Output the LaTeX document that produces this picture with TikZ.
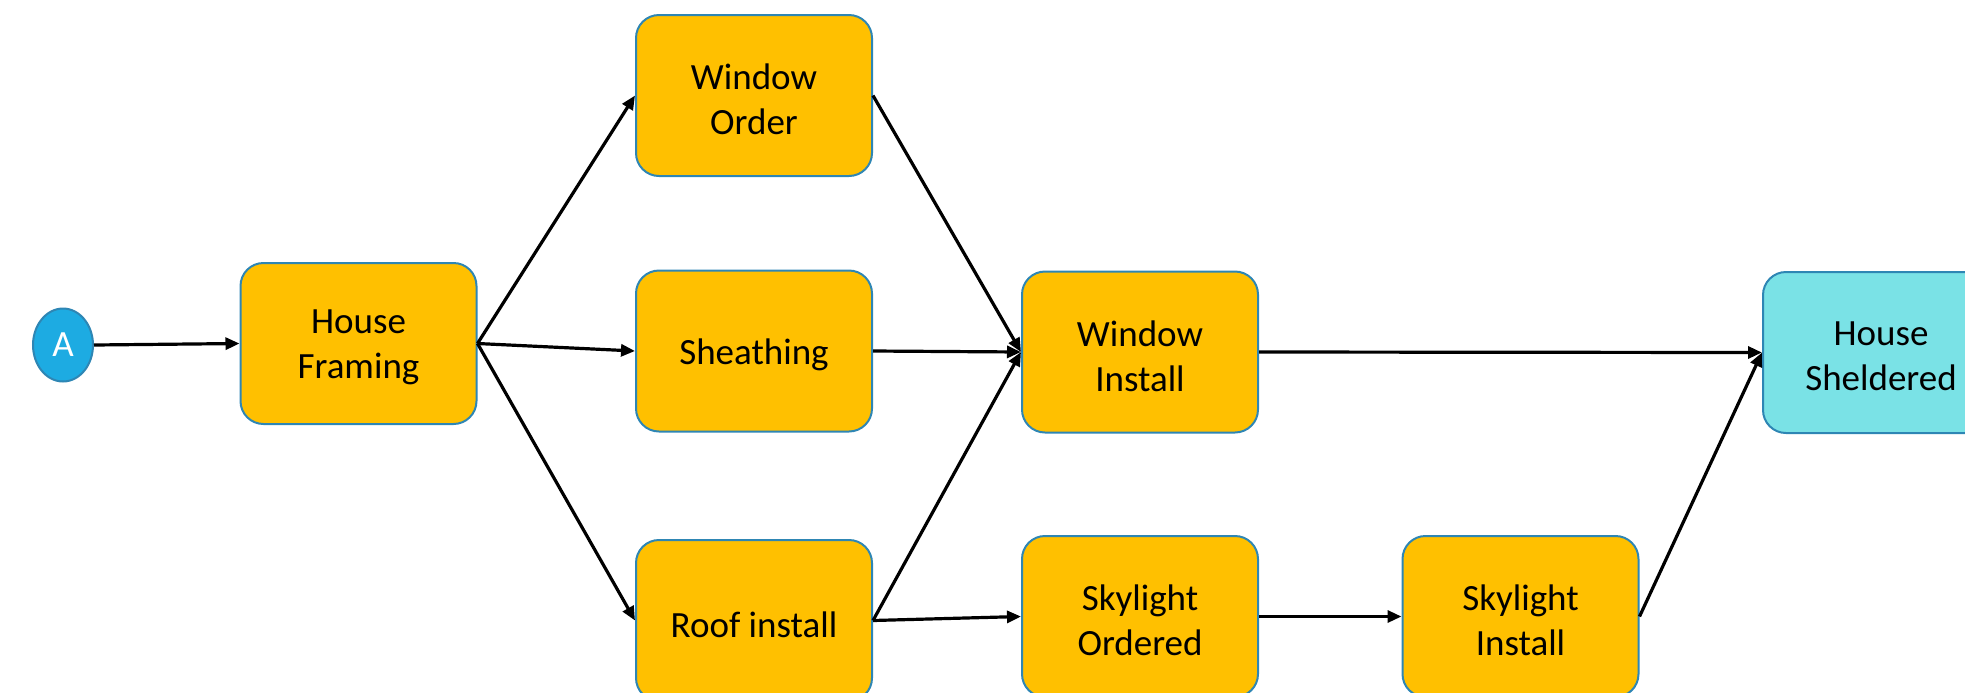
\documentclass[tikz,border=0pt]{standalone}
\usepackage{fontspec}
\setmainfont{Carlito}
\usetikzlibrary{arrows.meta,shapes.geometric}
\definecolor{taskfill}{RGB}{255,192,0}
\definecolor{taskline}{RGB}{46,134,180}
\definecolor{startfill}{RGB}{29,171,226}
\definecolor{endfill}{RGB}{122,226,230}
\tikzset{
  task/.style={draw=taskline, line width=1pt, fill=taskfill, rounded corners=11.5pt,
    minimum width=118pt, minimum height=80.5pt, inner sep=0pt},
  goal/.style={task, fill=endfill},
  tasktext/.style={align=center, inner sep=0pt, yshift=-2pt,
    font=\fontsize{18.5}{22.5}\selectfont},
  start/.style={ellipse, draw=taskline, line width=1pt, fill=startfill, text=white,
    minimum width=30pt, minimum height=36.5pt, inner sep=0pt,
    font=\fontsize{18.5}{22.5}\selectfont},
  link/.style={draw=black, line width=1.6pt, -{Triangle[length=7pt,width=6pt]}}
}
\begin{document}
\begin{tikzpicture}[x=0.5pt,y=-0.5pt]
\useasboundingbox (0,0) rectangle (1965,692);
\clip (0,0) rectangle (1965,692);
\node[start] (a) at (63,345) {A};
\node[task, label={[tasktext]center:House\\Framing}] (hf) at (358.5,343.5) {};
\node[task, label={[tasktext]center:Window\\Order}] (wo) at (754,95.5) {};
\node[task, label={[tasktext]center:Sheathing}] (sh) at (754,351) {};
\node[task, label={[tasktext]center:Roof install}] (ri) at (754,620.5) {};
\node[task, label={[tasktext]center:Window\\Install}] (wi) at (1140,352) {};
\node[task, label={[tasktext]center:Skylight\\Ordered}] (so) at (1140,616.5) {};
\node[task, label={[tasktext]center:Skylight\\Install}] (si) at (1520.5,616.5) {};
\node[goal, label={[tasktext]center:House\\Sheldered}] (hs) at (1881,352.5) {};
\draw[link] (a.east) -- (hf.west);
\draw[link] (hf.east) -- (wo.west);
\draw[link] (hf.east) -- (sh.west);
\draw[link] (hf.east) -- (ri.west);
\draw[link] (wo.east) -- (wi.west);
\draw[link] (sh.east) -- (wi.west);
\draw[link] (ri.east) -- (wi.west);
\draw[link] (wi.east) -- (hs.west);
\draw[link] (ri.east) -- (so.west);
\draw[link] (so.east) -- (si.west);
\draw[link] (si.east) -- (hs.west);
\end{tikzpicture}
\end{document}
